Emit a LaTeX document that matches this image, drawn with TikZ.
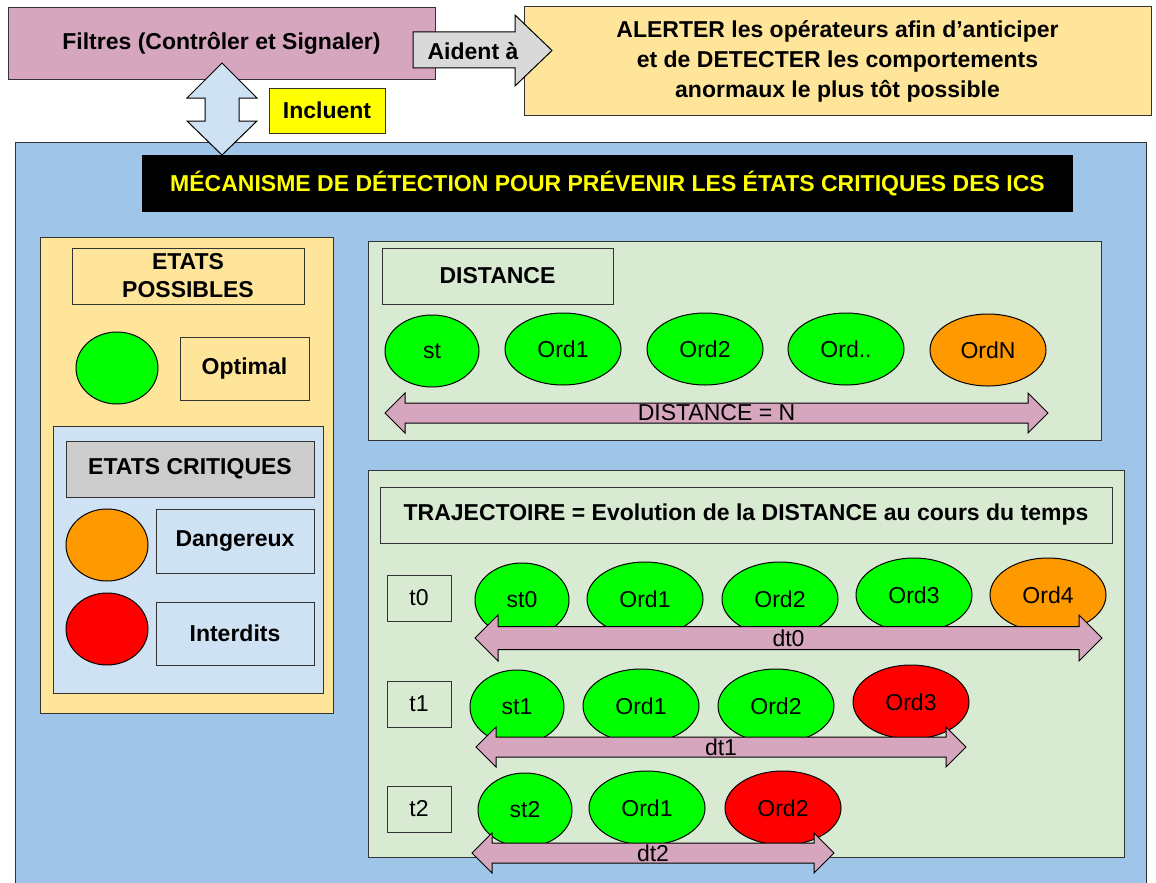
\documentclass[tikz,border=0pt]{standalone}
\usepackage{fontspec}
\setmainfont{Liberation Sans}
\usetikzlibrary{shapes.geometric}
\definecolor{filtrepink}{HTML}{D5A6BD}
\definecolor{alertyellow}{HTML}{FFE599}
\definecolor{mecablue}{HTML}{9FC5E8}
\definecolor{paleblue}{HTML}{CFE2F3}
\definecolor{palegreen}{HTML}{D9EAD3}
\definecolor{critgrey}{HTML}{CCCCCC}
\definecolor{arrowgrey}{HTML}{D9D9D9}
\definecolor{okgreen}{HTML}{00FF00}
\definecolor{dangerorange}{HTML}{FF9900}
\definecolor{forbidred}{HTML}{FF0000}
\definecolor{labelyellow}{HTML}{FFFF00}
\tikzset{
	boxed/.style={draw=black!80,line width=1pt,rectangle,inner sep=0pt,align=center,font=\fontsize{23}{28}\selectfont\bfseries},
	etat/.style={draw=black,line width=1pt,ellipse,inner sep=0pt,minimum width=116pt,minimum height=74pt,fill=okgreen,font=\fontsize{23}{28}\selectfont},
	panel/.style={draw=black!80,line width=1pt},
	blockarrow/.style={draw=black,line width=1pt,fill=filtrepink},
	plain/.style={inner sep=0pt,font=\fontsize{23}{28}\selectfont}
}
\newcommand{\distarrow}[7]{
	\draw[blockarrow] (#2,#4) -- (#2+#6,#4-#6) -- (#2+#6,#4-#5) -- (#3-#6,#4-#5) -- (#3-#6,#4-#6) -- (#3,#4) -- (#3-#6,#4+#6) -- (#3-#6,#4+#5) -- (#2+#6,#4+#5) -- (#2+#6,#4+#6) -- cycle;
	\node[plain] (#1) at ({(#2+#3)/2},#4) {#7};
}

\begin{document}
\begin{tikzpicture}[x=1pt,y=-1pt]
		\useasboundingbox (0,0) rectangle (1156,883);
		\fill[white] (0,0) rectangle (1156,883);
		\node[boxed,fill=filtrepink,minimum width=427pt,minimum height=71pt] (filtres) at (221.5,43.5) {Filtres (Contrôler et Signaler)};
		\node[boxed,fill=alertyellow,minimum width=627pt,minimum height=108pt,font=\fontsize{23}{30}\selectfont\bfseries] (alerter) at (837.5,61) {ALERTER les opérateurs afin d’anticiper\\et de DETECTER les comportements\\anormaux le plus tôt possible};
		\draw[draw=black,line width=1pt,fill=arrowgrey] (413,32) -- (515,32) -- (515,15) -- (552,50.5) -- (515,86) -- (515,68) -- (413,68) -- cycle;
		\node[plain,font=\fontsize{23}{28}\selectfont\bfseries] (aident) at (473,51) {Aident à};
		\node[boxed,fill=labelyellow,minimum width=116pt,minimum height=45pt] (incluent) at (327,110.5) {Incluent};
		\draw[panel,fill=mecablue] (15,142) rectangle (1146,900);
		\draw[draw=black,line width=1pt,fill=paleblue] (222,63) -- (257,98) -- (239,98) -- (239,121) -- (257,121) -- (222,155) -- (187,121) -- (205,121) -- (205,98) -- (187,98) -- cycle;
		\node[fill=black,inner sep=0pt,minimum width=931pt,minimum height=57pt,text=labelyellow,font=\fontsize{23}{28}\selectfont\bfseries] (mecanisme) at (607.5,183.5) {MÉCANISME DE DÉTECTION POUR PRÉVENIR LES ÉTATS CRITIQUES DES ICS};
		% etats
		\draw[panel,fill=alertyellow] (40,237) rectangle (333,713);
		\node[boxed,minimum width=232pt,minimum height=56pt] (possibles) at (188,276) {ETATS\\POSSIBLES};
		\node[etat,minimum width=82pt,minimum height=72pt] (optimalrond) at (117,368) {};
		\node[boxed,minimum width=129pt,minimum height=63pt] (optimal) at (244.5,368.5) {Optimal};
		\draw[panel,fill=paleblue] (53,426) rectangle (323,693);
		\node[boxed,fill=critgrey,minimum width=248pt,minimum height=56pt] (critiques) at (190,469) {ETATS CRITIQUES};
		\node[etat,fill=dangerorange,minimum width=82pt,minimum height=72pt] (dangerrond) at (107,545) {};
		\node[boxed,minimum width=158pt,minimum height=64pt] (dangereux) at (235,541) {Dangereux};
		\node[etat,fill=forbidred,minimum width=82pt,minimum height=72pt] (interditrond) at (107,629) {};
		\node[boxed,minimum width=158pt,minimum height=63pt] (interdits) at (235,633.5) {Interdits};
		% distance
		\draw[panel,fill=palegreen] (368,241) rectangle (1101,440);
		\node[boxed,minimum width=231pt,minimum height=56pt] (distance) at (497.5,276) {DISTANCE};
		\node[etat,minimum width=94pt,minimum height=72pt] (st) at (432,351) {st};
		\node[etat,minimum height=72pt] (dord1) at (563,349) {Ord1};
		\node[etat,minimum height=72pt] (dord2) at (705,349) {Ord2};
		\node[etat,minimum height=72pt] (dordx) at (846,349) {Ord..};
		\node[etat,fill=dangerorange,minimum height=72pt] (dordn) at (988,350) {OrdN};
		\distarrow{distn}{385}{1048}{413}{10}{20}{DISTANCE = N}
		% trajectoire
		\draw[panel,fill=palegreen] (368,470) rectangle (1124,857);
		\node[boxed,minimum width=732pt,minimum height=56pt] (trajectoire) at (746,515) {TRAJECTOIRE = Evolution de la DISTANCE au cours du temps};
		\node[boxed,font=\fontsize{23}{28}\selectfont,minimum width=64pt,minimum height=46pt] (t0) at (419,598) {t0};
		\node[boxed,font=\fontsize{23}{28}\selectfont,minimum width=64pt,minimum height=46pt] (t1) at (419,704) {t1};
		\node[boxed,font=\fontsize{23}{28}\selectfont,minimum width=64pt,minimum height=46pt] (t2) at (419,809) {t2};
		\node[etat,minimum width=94pt] (st0) at (522,600) {st0};
		\node[etat] (t0ord1) at (645,599) {Ord1};
		\node[etat] (t0ord2) at (780,599) {Ord2};
		\node[etat] (t0ord3) at (914,595) {Ord3};
		\node[etat,fill=dangerorange] (t0ord4) at (1048,595) {Ord4};
		\distarrow{dt0}{475}{1102}{638}{11.5}{23}{dt0}
		\node[etat,minimum width=94pt] (st1) at (517,707) {st1};
		\node[etat] (t1ord1) at (641,706) {Ord1};
		\node[etat] (t1ord2) at (776,706) {Ord2};
		\node[etat,fill=forbidred] (t1ord3) at (911,702) {Ord3};
		\distarrow{dt1}{476}{966}{747}{10}{20}{dt1}
		\node[etat,minimum width=94pt] (st2) at (525,810) {st2};
		\node[etat] (t2ord1) at (647,808) {Ord1};
		\node[etat,fill=forbidred] (t2ord2) at (783,808) {Ord2};
		\distarrow{dt2}{472}{834}{853}{10}{20}{dt2}
	\end{tikzpicture}
\end{document}
